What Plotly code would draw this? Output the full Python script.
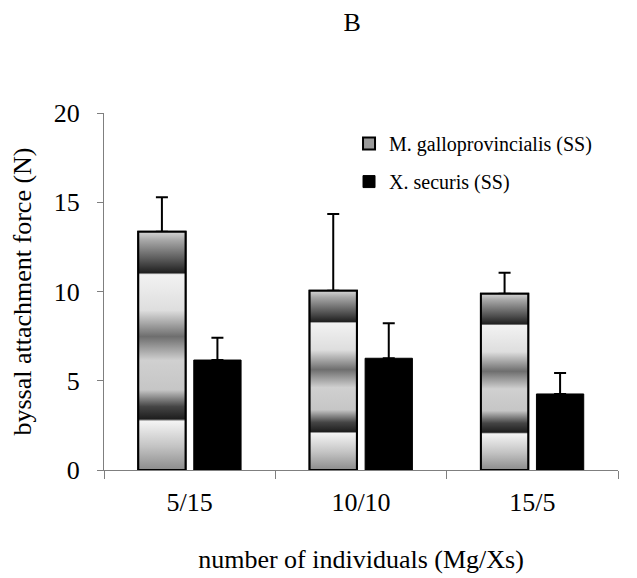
import plotly.graph_objects as go

categories = ["5/15", "10/10", "15/5"]
series_names = ["M. galloprovincialis (SS)", "X. securis (SS)"]
mg_values = [13.35, 10.04, 9.88]
mg_errors = [1.93, 4.30, 1.17]
xs_values = [6.16, 6.26, 4.26]
xs_errors = [1.25, 1.96, 1.17]

FONT = "Liberation Serif"
BAR_W = 0.276
OFF_MG = -0.300
OFF_XS = 0.024

metal_scale = [
    [0.000, "#8c8c8c"], [0.100, "#c4c4c4"], [0.205, "#f4f4f4"],
    [0.214, "#1e1e1e"], [0.266, "#454545"], [0.336, "#c6c6c6"],
    [0.460, "#d0d0d0"], [0.560, "#6e6e6e"], [0.670, "#dedede"],
    [0.820, "#f2f2f2"], [0.828, "#202020"], [0.880, "#555555"],
    [0.965, "#a8a8a8"], [1.000, "#d6d6d6"],
]

xpos = list(range(len(categories)))

fig = go.Figure()

fig.add_trace(go.Bar(
    x=xpos, y=mg_values, name=series_names[0],
    width=BAR_W, offset=OFF_MG,
    marker=dict(color="#9a9a9a", line=dict(color="black", width=2)),
    error_y=dict(type="data", symmetric=False, array=mg_errors,
                 arrayminus=[0] * len(mg_errors), color="black",
                 thickness=2, width=6),
    legendgroup="mg", hoverinfo="skip",
))
fig.add_trace(go.Bar(
    x=xpos, y=xs_values, name=series_names[1],
    width=BAR_W, offset=OFF_XS,
    marker=dict(color="black", line=dict(color="black", width=1)),
    error_y=dict(type="data", symmetric=False, array=xs_errors,
                 arrayminus=[0] * len(xs_errors), color="black",
                 thickness=2, width=6),
    legendgroup="xs", hoverinfo="skip",
))

# metallic gradient fill on top of the M. galloprovincialis bars
for xc, v in zip(xpos, mg_values):
    x0 = xc + OFF_MG
    x1 = x0 + BAR_W
    fig.add_trace(go.Scatter(
        x=[x0, x1, x1, x0, x0], y=[0, 0, v, v, 0],
        mode="lines", fill="toself",
        fillgradient=dict(type="vertical", colorscale=metal_scale, start=0, stop=v),
        line=dict(color="black", width=2),
        showlegend=False, hoverinfo="skip",
    ))

fig.update_layout(
    width=629, height=570,
    margin=dict(l=96, r=19, t=105, b=108),
    paper_bgcolor="white", plot_bgcolor="white",
    font=dict(family=FONT, color="black", size=26),
    showlegend=True,
    title=dict(text="B", x=0.547, y=0.9754, xanchor="center", yanchor="middle",
               font=dict(family=FONT, size=26, color="black")),
    legend=dict(x=0.4767, y=0.969, xanchor="left", yanchor="top",
                font=dict(family=FONT, size=20, color="black"),
                bgcolor="rgba(0,0,0,0)", tracegroupgap=9,
                traceorder="grouped"),
    xaxis=dict(
        range=[-0.5, 2.5], tickmode="array", tickvals=xpos, ticktext=categories,
        ticks="", ticklabelstandoff=9, showline=True, linecolor="#7f7f7f",
        linewidth=1, showgrid=False, zeroline=False, automargin=False,
        minor=dict(tickmode="array", tickvals=[-0.5, 0.5, 1.5, 2.5],
                   ticks="outside", ticklen=8, tickcolor="#7f7f7f", tickwidth=1),
        title=dict(text="number of individuals (Mg/Xs)", standoff=33,
                   font=dict(family=FONT, size=26, color="black")),
        tickfont=dict(family=FONT, size=26, color="black"),
    ),
    yaxis=dict(
        range=[0, 20], tickmode="linear", tick0=0, dtick=5,
        ticks="outside", ticklen=6, tickcolor="#7f7f7f", tickwidth=1,
        ticklabelstandoff=12,
        showline=True, linecolor="#7f7f7f", linewidth=1,
        showgrid=False, zeroline=False, automargin=False,
        title=dict(text="byssal attachment force (N)", standoff=14,
                   font=dict(family=FONT, size=26, color="black")),
        tickfont=dict(family=FONT, size=26, color="black"),
    ),
)

fig.write_html("out.html")
